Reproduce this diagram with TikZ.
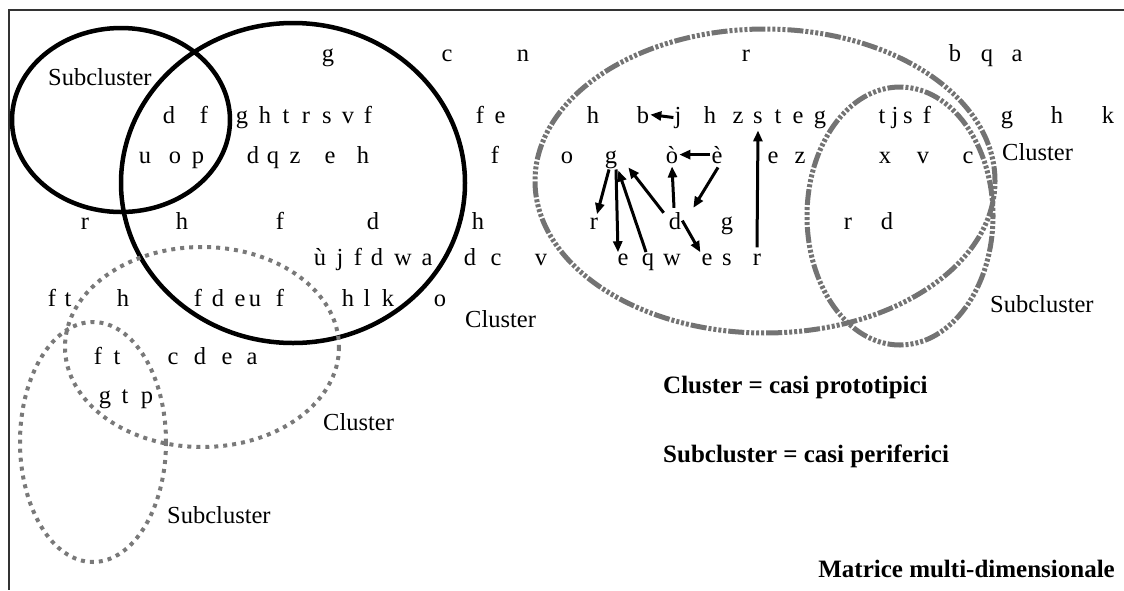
\documentclass[tikz,border=0pt]{standalone}
\usepackage{fontspec}
\setmainfont{Liberation Serif}
\usetikzlibrary{arrows.meta,calc}
\begin{document}
\begin{tikzpicture}[x=1pt,y=-1pt,
  lt/.style={anchor=base,inner sep=1pt,font=\fontsize{24.5}{28}\selectfont},
  lab/.style={anchor=base west,inner sep=0pt,font=\fontsize{24.5}{28}\selectfont},
  bold/.style={anchor=base west,inner sep=0pt,font=\fontsize{25}{30}\selectfont\bfseries},
  blk/.style={draw=black,line width=4.5pt},
  dotg/.style={draw=gray!95!black,line width=4pt,dash pattern=on 4pt off 5pt},
  dashg/.style={draw=gray!90!black,line width=5pt,dash pattern=on 3pt off 2pt on 3pt off 2pt on 3pt off 2pt on 3pt off 2pt on 16pt off 2pt},
  arr/.style={-{Triangle[length=11pt,width=9pt]},line width=3pt,draw=black},
  frame/.style={draw=black!80,line width=2.5pt}]
\useasboundingbox (0,0) rectangle (1124,590);
% frame
\coordinate (tl) at (9,10);
\coordinate (tr) at (1124,10);
\coordinate (bl) at (9,590);
\draw[frame] (tr) -- (tl) -- (bl);
% ellipses
\draw[blk] (121,120) ellipse [x radius=109, y radius=92];
\draw[blk] (293,183) ellipse [x radius=172, y radius=160];
\draw[dotg] (202,347) ellipse [x radius=137, y radius=100];
\draw[dotg] (93,442) ellipse [x radius=73, y radius=120];
\draw[dashg] (765,181) ellipse [x radius=230, y radius=152];
\draw[dashg] (900,216) ellipse [x radius=93, y radius=129];
% row 1
\foreach \n/\x/\t in {a/328/g,b/447/c,c/523/n,d/746/r,e/955/b,f/987/q,g/1017/a}
  \node[lt] (ra\n) at (\x,61) {\t};
% row 2
\foreach \n/\x/\t in {a/169/d,b/204/f,c/242/g,d/265/h,e/286/t,f/306/r,g/327/s,h/348/v,i/368/f,j/480/f,k/500/e,l/593/h,m/710/h,n/738/z,o/778/t,p/798/e,q/820/g,r/882/t,s/895/j,t/908/s,u/927/f,v/1007/g,w/1057/h,x/1108/k}
  \node[lt] (rb\n) at (\x,123) {\t};
\node[lt] (bb) at (643,123) {b};
\node[lt] (jj) at (678,123) {j};
\node[lt] (ss) at (758,123) {s};
% row 3
\foreach \n/\x/\t in {a/145/u,b/175/o,c/198/p,d/253/d,e/273/q,f/295/z,g/330/e,h/363/h,i/495/f,j/567/o,k/773/e,l/800/z,m/885/x,n/923/v,o/968/c}
  \node[lt] (rc\n) at (\x,163) {\t};
\node[lt] (gg) at (611,163) {g};
\node[lt] (oo) at (672,163) {ò};
\node[lt] (ee) at (717,163) {è};
% row 4
\foreach \n/\x/\t in {a/85/r,b/182/h,c/280/f,d/373/d,e/478/h,f/727/g,g/848/r,h/887/d}
  \node[lt] (rd\n) at (\x,229) {\t};
\node[lt] (rr) at (594,229) {r};
\node[lt] (dd) at (675,229) {d};
% row 5
\foreach \n/\x/\t in {a/320/ù,b/340/j,c/358/f,d/377/d,e/403/w,f/427/a,g/470/d,h/496/c,i/541/v,j/672/w,k/727/s}
  \node[lt] (re\n) at (\x,265) {\t};
\node[lt] (e1) at (623,265) {e};
\node[lt] (qq) at (648,265) {q};
\node[lt] (e2) at (707,265) {e};
\node[lt] (r3) at (757,265) {r};
% row 6
\foreach \n/\x/\t in {a/52/f,b/68/t,c/123/h,d/198/f,e/218/d,f/240/e,g/255/u,h/280/f,i/348/h,j/367/l,k/388/k,l/440/o}
  \node[lt] (rf\n) at (\x,306) {\t};
% row 7
\foreach \n/\x/\t in {a/98/f,b/117/t,c/173/c,d/200/d,e/227/e,f/252/a}
  \node[lt] (rg\n) at (\x,364) {\t};
% row 8
\foreach \n/\x/\t in {a/105/g,b/125/t,c/147/p}
  \node[lt] (rh\n) at (\x,403) {\t};
% labels
\node[lab] (l1) at (48,85) {Subcluster};
\node[lab] (l2) at (1002,160) {Cluster};
\node[lab] (l3) at (465,327) {Cluster};
\node[lab] (l4) at (323,430) {Cluster};
\node[lab] (l5) at (167,523) {Subcluster};
\node[lab] (l6) at (990,312) {Subcluster};
\node[bold] (k1) at (663,393) {Cluster = casi prototipici};
\node[bold] (k2) at (663,462) {Subcluster = casi periferici};
\node[bold,anchor=base east] (k3) at (1115,577) {Matrice multi-dimensionale};
% arrows
\draw[arr] (jj.west) -- (bb.east);
\draw[arr] (ee.west) -- (oo.east);
\draw[arr] ($(gg.south)+(-2,0)$) -- ($(rr.north)+(3,-2)$);
\draw[arr] ($(gg.south)+(5,0)$) -- ($(e1.north)+(-5,0)$);
\draw[arr] ($(qq.north)+(-2,0)$) -- ($(gg.south east)+(0,1)$);
\draw[arr] ($(dd.north west)+(-4,2)$) -- ($(gg.east)+(10,8)$);
\draw[arr] ($(dd.north)+(-1,-3)$) -- ($(oo.south)+(0,2)$);
\draw[arr] ($(ee.south)+(1,3)$) -- ($(dd.north east)+(11,-3)$);
\draw[arr] (dd.east) -- (e2.north west);
\draw[arr] ($(r3.north)+(0,-5)$) -- ($(ss.south)+(0,6)$);
\end{tikzpicture}
\end{document}
